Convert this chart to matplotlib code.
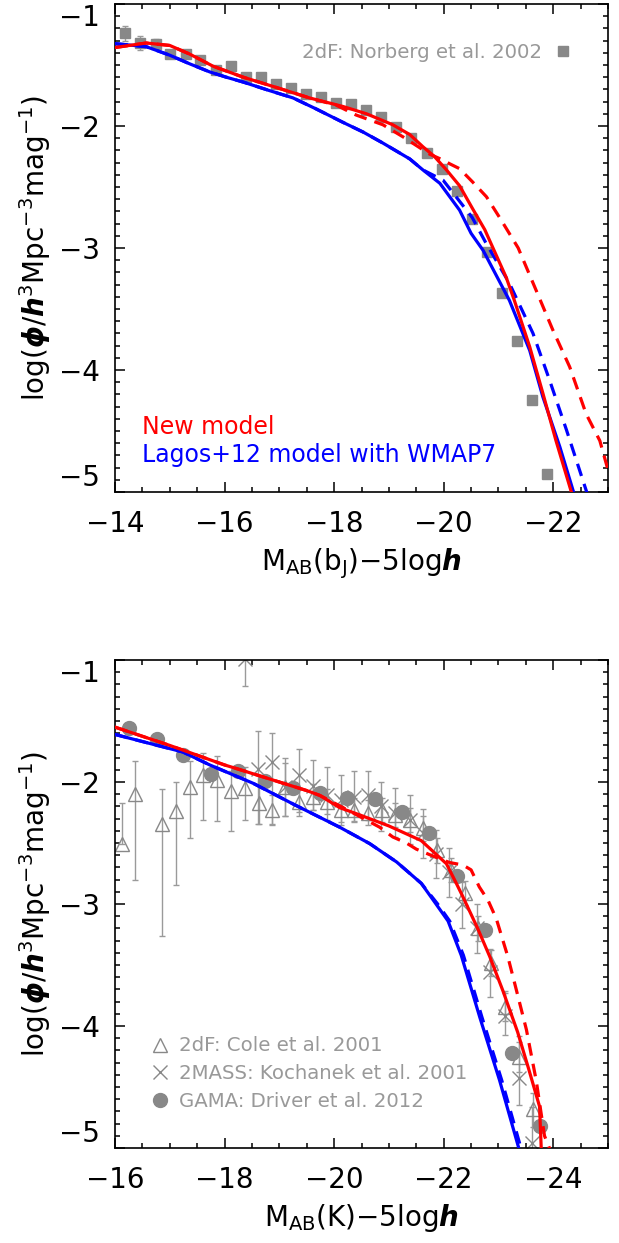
import matplotlib
matplotlib.use('Agg')
import matplotlib.pyplot as plt
from matplotlib.ticker import MultipleLocator
from matplotlib.lines import Line2D

plt.rcParams['font.family'] = ['DejaVu Sans']
plt.rcParams['mathtext.fontset'] = 'dejavusans'

# ---------------- top panel (bJ) ----------------
norberg_M = [-14.19, -14.46, -14.74, -15.01, -15.29, -15.56, -15.84, -16.12, -16.39, -16.67,
             -16.94, -17.22, -17.49, -17.76, -18.04, -18.31, -18.58, -18.86, -19.13, -19.41,
             -19.69, -19.97, -20.24, -20.52, -20.79, -21.06, -21.34, -21.61, -21.88]
norberg_logphi = [-1.24, -1.32, -1.33, -1.41, -1.41, -1.46, -1.54, -1.51, -1.60, -1.60,
                  -1.66, -1.685, -1.74, -1.76, -1.81, -1.82, -1.87, -1.93, -2.01, -2.095,
                  -2.22, -2.355, -2.53, -2.76, -3.03, -3.37, -3.76, -4.25, -4.85]
norberg_err = [0.06, 0.06, 0.04, 0.03, 0.03, 0.02, 0.02, 0.02, 0.02, 0.02,
               0.02, 0.02, 0.02, 0.02, 0.02, 0.02, 0.02, 0.02, 0.02, 0.02,
               0.02, 0.02, 0.02, 0.02, 0.02, 0.02, 0.02, 0.02, 0.03]

bj_new_M = [-14.0, -14.57, -15.0, -15.36, -15.79, -16.34, -16.95, -17.55, -18.16, -18.59,
            -19.07, -19.38, -19.62, -19.83, -20.05, -20.29, -20.53, -20.75, -21.14, -21.29,
            -21.57, -21.81, -22.05, -22.33, -22.36]
bj_new_logphi = [-1.357, -1.32, -1.34, -1.41, -1.51, -1.60, -1.685, -1.77, -1.84, -1.90,
                 -1.99, -2.07, -2.17, -2.25, -2.36, -2.49, -2.68, -2.85, -3.24, -3.43,
                 -3.81, -4.19, -4.58, -5.0, -5.05]

bj_new_dash_M = [-14.0, -14.57, -15.0, -15.36, -15.79, -16.34, -16.95, -17.55, -18.04, -18.40,
                 -18.89, -19.26, -19.50, -19.74, -19.99, -20.11, -20.29, -20.53, -20.78, -21.02,
                 -21.36, -21.69, -21.99, -22.30, -22.60, -22.85, -23.05]
bj_new_dash_logphi = [-1.357, -1.32, -1.34, -1.41, -1.51, -1.60, -1.685, -1.77, -1.83, -1.91,
                      -1.99, -2.09, -2.16, -2.23, -2.28, -2.31, -2.35, -2.46, -2.58, -2.75,
                      -3.00, -3.35, -3.67, -3.975, -4.36, -4.58, -4.90]

bj_lagos_M = [-14.0, -14.57, -15.0, -15.36, -15.73, -16.03, -16.34, -16.82, -17.25, -17.67,
              -18.16, -18.53, -18.89, -19.38, -19.62, -19.93, -20.29, -20.50, -20.72, -21.20,
              -21.57, -21.81, -22.12, -22.37, -22.40]
bj_lagos_logphi = [-1.325, -1.35, -1.42, -1.49, -1.557, -1.60, -1.64, -1.71, -1.77, -1.86,
                   -1.97, -2.05, -2.14, -2.27, -2.36, -2.47, -2.69, -2.88, -3.02, -3.43,
                   -3.84, -4.22, -4.63, -5.0, -5.05]

bj_lagos_dash_M = [-14.0, -14.57, -15.0, -15.36, -15.73, -16.03, -16.34, -16.82, -17.25, -17.67,
                   -18.16, -18.53, -18.89, -19.38, -19.62, -19.99, -20.26, -20.52, -20.76, -21.20,
                   -21.63, -21.93, -22.24, -22.61, -22.64]
bj_lagos_dash_logphi = [-1.325, -1.35, -1.42, -1.49, -1.557, -1.60, -1.64, -1.71, -1.77, -1.86,
                        -1.97, -2.05, -2.14, -2.27, -2.36, -2.445, -2.60, -2.75, -2.95, -3.29,
                        -3.70, -4.08, -4.49, -5.0, -5.05]

# ---------------- bottom panel (K) ----------------
gama_M = [-16.25, -16.76, -17.25, -17.75, -18.24, -18.74, -19.24, -19.75, -20.24, -20.74,
          -21.24, -21.74, -22.24, -22.75, -23.25, -23.75]
gama_logphi = [-1.554, -1.65, -1.775, -1.937, -1.912, -1.994, -2.05, -2.09, -2.13, -2.14,
               -2.246, -2.42, -2.77, -3.215, -4.22, -4.82]

cole_M = [-16.12, -16.37, -16.86, -17.12, -17.36, -17.61, -17.86, -18.12, -18.37, -18.62,
          -18.86, -19.11, -19.36, -19.61, -19.87, -20.12, -20.37, -20.62, -20.87, -21.12,
          -21.38, -21.62, -21.88, -22.13, -22.38, -22.63, -22.87, -23.11, -23.37, -23.63]
cole_logphi = [-2.51, -2.095, -2.34, -2.24, -2.04, -1.945, -1.986, -2.07, -2.05, -2.17,
               -2.23, -2.04, -2.16, -2.12, -2.16, -2.23, -2.23, -2.25, -2.23, -2.27,
               -2.31, -2.38, -2.56, -2.72, -2.91, -3.20, -3.48, -3.84, -4.25, -4.68]
cole_err_lo = [0.0, 0.705, 0.92, 0.60, 0.415, 0.37, 0.33, 0.33, 0.26, 0.17,
               0.12, 0.24, 0.12, 0.11, 0.10, 0.10, 0.10, 0.10, 0.10, 0.10,
               0.10, 0.10, 0.10, 0.10, 0.10, 0.10, 0.11, 0.12, 0.13, 0.15]
cole_err_hi = [0.34, 0.265, 0.28, 0.24, 0.21, 0.185, 0.20, 0.16, 0.17, 0.15,
               0.12, 0.20, 0.10, 0.10, 0.10, 0.10, 0.10, 0.10, 0.10, 0.10,
               0.10, 0.10, 0.10, 0.10, 0.10, 0.10, 0.10, 0.11, 0.12, 0.13]

koch_M = [-18.37, -18.61, -18.86, -19.11, -19.36, -19.61, -19.87, -20.12, -20.37, -20.62,
          -20.86, -21.12, -21.38, -21.62, -21.86, -22.10, -22.33, -22.60, -22.85, -23.11,
          -23.37, -23.62]
koch_logphi = [-0.99, -1.89, -1.836, -2.04, -1.945, -2.03, -2.11, -2.15, -2.12, -2.11,
               -2.20, -2.25, -2.31, -2.42, -2.59, -2.74, -3.00, -3.20, -3.56, -3.92,
               -4.43, -4.96]
koch_err_lo = [0.22, 0.45, 0.51, 0.24, 0.30, 0.20, 0.20, 0.20, 0.20, 0.20,
               0.20, 0.20, 0.20, 0.20, 0.20, 0.20, 0.20, 0.20, 0.20, 0.15,
               0.22, 0.30]
koch_err_hi = [0.20, 0.31, 0.24, 0.24, 0.215, 0.21, 0.23, 0.21, 0.21, 0.20,
               0.20, 0.20, 0.20, 0.20, 0.20, 0.20, 0.18, 0.20, 0.19, 0.21,
               0.35, 0.30]

k_new_M = [-16.0, -17.0, -18.0, -18.22, -19.0, -19.5, -19.74, -20.10, -20.47, -21.0,
           -21.59, -22.05, -22.23, -22.35, -22.62, -22.84, -23.08, -23.35, -23.55, -23.75,
           -23.78, -23.80]
k_new_logphi = [-1.55, -1.70, -1.86, -1.89, -2.0, -2.07, -2.11, -2.21, -2.27, -2.36,
                -2.48, -2.67, -2.83, -2.94, -3.20, -3.43, -3.71, -4.05, -4.35, -4.66,
                -5.0, -5.05]

k_new_dash_M = [-16.0, -17.0, -18.0, -18.22, -19.0, -19.5, -19.74, -20.25, -20.83, -21.07,
                -21.32, -21.50, -21.93, -22.11, -22.35, -22.50, -22.65, -22.81, -22.96, -23.17,
                -23.29, -23.51, -23.69, -23.84, -23.93, -23.95]
k_new_dash_logphi = [-1.55, -1.70, -1.86, -1.89, -2.0, -2.07, -2.11, -2.23, -2.37, -2.45,
                     -2.50, -2.55, -2.63, -2.66, -2.68, -2.72, -2.86, -2.97, -3.12, -3.43,
                     -3.64, -4.03, -4.45, -4.90, -5.0, -5.05]

k_lagos_M = [-16.0, -17.24, -17.73, -18.52, -19.25, -20.10, -20.65, -21.14, -21.59, -21.86,
             -22.08, -22.32, -22.66, -23.02, -23.37, -23.40]
k_lagos_logphi = [-1.61, -1.754, -1.86, -2.01, -2.18, -2.37, -2.505, -2.655, -2.83, -3.0,
                  -3.14, -3.42, -3.93, -4.445, -5.0, -5.05]

k_lagos_dash_M = [-16.0, -17.24, -17.73, -18.52, -19.25, -20.10, -20.65, -21.14, -21.59, -21.89,
                  -22.11, -22.36, -22.70, -23.06, -23.41, -23.44]
k_lagos_dash_logphi = [-1.61, -1.754, -1.86, -2.01, -2.18, -2.37, -2.505, -2.655, -2.83, -3.0,
                       -3.14, -3.42, -3.93, -4.445, -5.0, -5.05]

RED = '#ff0000'
BLUE = '#0000ff'
GRAY = '#888888'
EGRAY = '#9a9a9a'
LW = 2.3
DASH = (0, (4.0, 2.6))
TICKFS = 20
LEGFS = 14.2

fig = plt.figure(figsize=(6.19, 12.43), dpi=100)
ax1 = fig.add_axes([0.1858, 0.6042, 0.7965, 0.3926])
ax2 = fig.add_axes([0.1858, 0.0764, 0.7965, 0.3926])

ylab = r'log($\mathbfit{\phi}$/$\mathbfit{h}^{3}$Mpc$^{-3}$mag$^{-1}$)'


def style(ax, xlim, xticks):
    ax.set_xlim(*xlim)
    ax.set_ylim(-5, -1)
    ax.set_xticks(xticks)
    ax.set_yticks([-5, -4, -3, -2, -1])
    ax.xaxis.set_minor_locator(MultipleLocator(0.5))
    ax.yaxis.set_minor_locator(MultipleLocator(0.1))
    ax.tick_params(which='both', direction='in', top=True, right=True, width=1.1,
                   labelsize=TICKFS)
    ax.tick_params(which='major', length=7)
    ax.tick_params(which='minor', length=3.8)
    ax.tick_params(axis='x', which='major', pad=13)
    ax.tick_params(axis='y', which='major', pad=11)
    for s in ax.spines.values():
        s.set_linewidth(1.2)
    ax.set_ylabel(ylab, fontsize=TICKFS, va='center')
    ax.yaxis.set_label_coords(-0.162, 0.5)
    yt = ax.yaxis.get_major_ticks()
    yt[0].label1.set_verticalalignment('bottom')
    yt[-1].label1.set_verticalalignment('top')


# ---- top panel ----
style(ax1, (-14, -23), [-14, -16, -18, -20, -22])
ax1.errorbar(norberg_M, norberg_logphi, yerr=norberg_err, fmt='s', ms=7.8, color=GRAY,
             ecolor=EGRAY, elinewidth=1.0, capsize=2.5, capthick=1.0, zorder=2)
ax1.plot(bj_new_dash_M, bj_new_dash_logphi, color=RED, lw=LW, ls=DASH, zorder=3)
ax1.plot(bj_lagos_dash_M, bj_lagos_dash_logphi, color=BLUE, lw=LW, ls=DASH, zorder=3)
ax1.plot(bj_lagos_M, bj_lagos_logphi, color=BLUE, lw=LW, zorder=4)
ax1.plot(bj_new_M, bj_new_logphi, color=RED, lw=LW, zorder=5)
ax1.text(0.5, -0.16, r'M$_{\rm AB}$(b$_{\rm J}$)$-$5log$\mathbfit{h}$', transform=ax1.transAxes,
         ha='center', va='baseline', fontsize=TICKFS)
ax1.text(0.055, 0.134, 'New model', color=RED, fontsize=17, transform=ax1.transAxes,
         ha='left', va='center')
ax1.text(0.055, 0.076, 'Lagos+12 model with WMAP7', color=BLUE, fontsize=17,
         transform=ax1.transAxes, ha='left', va='center')
ax1.legend(handles=[Line2D([], [], marker='s', ls='none', color=GRAY, ms=7.8)],
           labels=['2dF: Norberg et al. 2002'], markerfirst=False, frameon=False,
           loc='center right', bbox_to_anchor=(0.929, 0.900), borderpad=0,
           borderaxespad=0, handlelength=1.0, handletextpad=0.55, fontsize=LEGFS,
           labelcolor='#999999')

# ---- bottom panel ----
style(ax2, (-16, -25), [-16, -18, -20, -22, -24])
ax2.errorbar(cole_M, cole_logphi, yerr=[cole_err_lo, cole_err_hi], fmt='^', ms=10,
             mfc='none', mec=GRAY, mew=1.0, ecolor=EGRAY, elinewidth=1.0, capsize=2.5,
             capthick=1.0, zorder=2)
ax2.errorbar(koch_M, koch_logphi, yerr=[koch_err_lo, koch_err_hi], fmt='x', ms=10,
             mec=GRAY, mew=1.0, ecolor=EGRAY, elinewidth=1.0, capsize=2.5,
             capthick=1.0, zorder=2)
ax2.plot(gama_M, gama_logphi, 'o', ms=10, color=GRAY, zorder=2)
ax2.plot(k_new_dash_M, k_new_dash_logphi, color=RED, lw=LW, ls=DASH, zorder=3)
ax2.plot(k_lagos_dash_M, k_lagos_dash_logphi, color=BLUE, lw=LW, ls=DASH, zorder=3)
ax2.plot(k_lagos_M, k_lagos_logphi, color=BLUE, lw=LW, zorder=4)
ax2.plot(k_new_M, k_new_logphi, color=RED, lw=LW, zorder=5)
ax2.text(0.5, -0.16, r'M$_{\rm AB}$(K)$-$5log$\mathbfit{h}$', transform=ax2.transAxes,
         ha='center', va='baseline', fontsize=TICKFS)
h_cole = Line2D([], [], marker='^', ls='none', mfc='none', mec=GRAY, mew=1.0, ms=10)
h_koch = Line2D([], [], marker='x', ls='none', mec=GRAY, mew=1.0, ms=10)
h_gama = Line2D([], [], marker='o', ls='none', color=GRAY, ms=10)
ax2.legend(handles=[h_cole, h_koch, h_gama],
           labels=['2dF: Cole et al. 2001', '2MASS: Kochanek et al. 2001',
                   'GAMA: Driver et al. 2012'],
           frameon=False, loc='center left', bbox_to_anchor=(0.071, 0.152), borderpad=0,
           borderaxespad=0, handlelength=1.0, handletextpad=0.48, labelspacing=0.45,
           fontsize=LEGFS, labelcolor='#999999')

fig.savefig('out.png', dpi=100)
